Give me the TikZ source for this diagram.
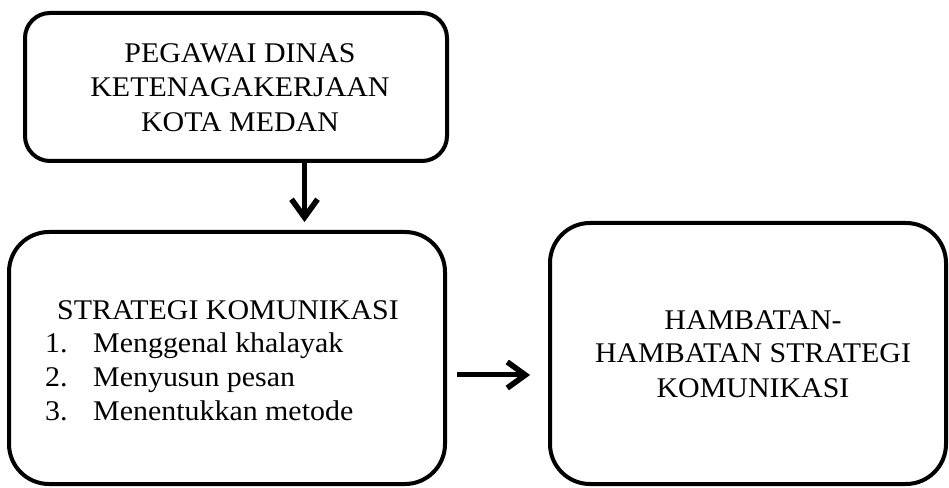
\documentclass[tikz,border=0pt]{standalone}
\usepackage{fontspec}
\setmainfont{Liberation Serif}[FakeStretch=1.05]
\usetikzlibrary{arrows.meta}
\tikzset{
  box/.style={draw=black, line width=4pt, fill=white, inner sep=0pt},
  lbl/.style={anchor=base, inner sep=0pt, font=\fontsize{28.5}{34}\selectfont},
  lblw/.style={anchor=base west, inner sep=0pt, font=\fontsize{28.5}{34}\selectfont},
  conn/.style={line width=5pt, -{Straight Barb[length=18pt,width=26pt,line width=5.5pt]}},
  connshadow/.style={conn, draw=black!35}
}
\begin{document}
\begin{tikzpicture}[x=1pt,y=1pt]
\useasboundingbox (0,0) rectangle (949,487);
% boxes
\node[box, rounded corners=25pt, minimum width=422pt, minimum height=148pt] (b1) at (236,400) {};
\node[box, rounded corners=40pt, minimum width=436pt, minimum height=252pt] (b2) at (227,129) {};
\node[box, rounded corners=40pt, minimum width=396pt, minimum height=261pt] (b3) at (748,133.5) {};
% box 1 text
\node[lbl] (t11) at (240,424) {PEGAWAI DINAS};
\node[lbl] (t12) at (240,390) {KETENAGAKERJAAN};
\node[lbl] (t13) at (240,355) {KOTA MEDAN};
% box 2 text
\node[lbl] (t21) at (228,167) {STRATEGI KOMUNIKASI};
\node[lblw] (n1) at (45,134) {1.};
\node[lblw] (i1) at (93,134) {Menggenal khalayak};
\node[lblw] (n2) at (45,100) {2.};
\node[lblw] (i2) at (93,100) {Menyusun pesan};
\node[lblw] (n3) at (45,67) {3.};
\node[lblw] (i3) at (93,67) {Menentukkan metode};
% box 3 text
\node[lbl] (t31) at (753,157) {HAMBATAN-};
\node[lbl] (t32) at (753,124) {HAMBATAN STRATEGI};
\node[lbl] (t33) at (753,90) {KOMUNIKASI};
% connectors
\coordinate (v2) at (304.5,265);
\coordinate (h1) at (457,112);
\coordinate (h2) at (530,112);
\draw[connshadow, shift={(2pt,-2pt)}] (v2 |- b1.south) -- (v2);
\draw[conn] (v2 |- b1.south) -- (v2);
\draw[connshadow, shift={(2pt,-3pt)}] (h1) -- (h2);
\draw[conn] (h1) -- (h2);
\end{tikzpicture}
\end{document}
